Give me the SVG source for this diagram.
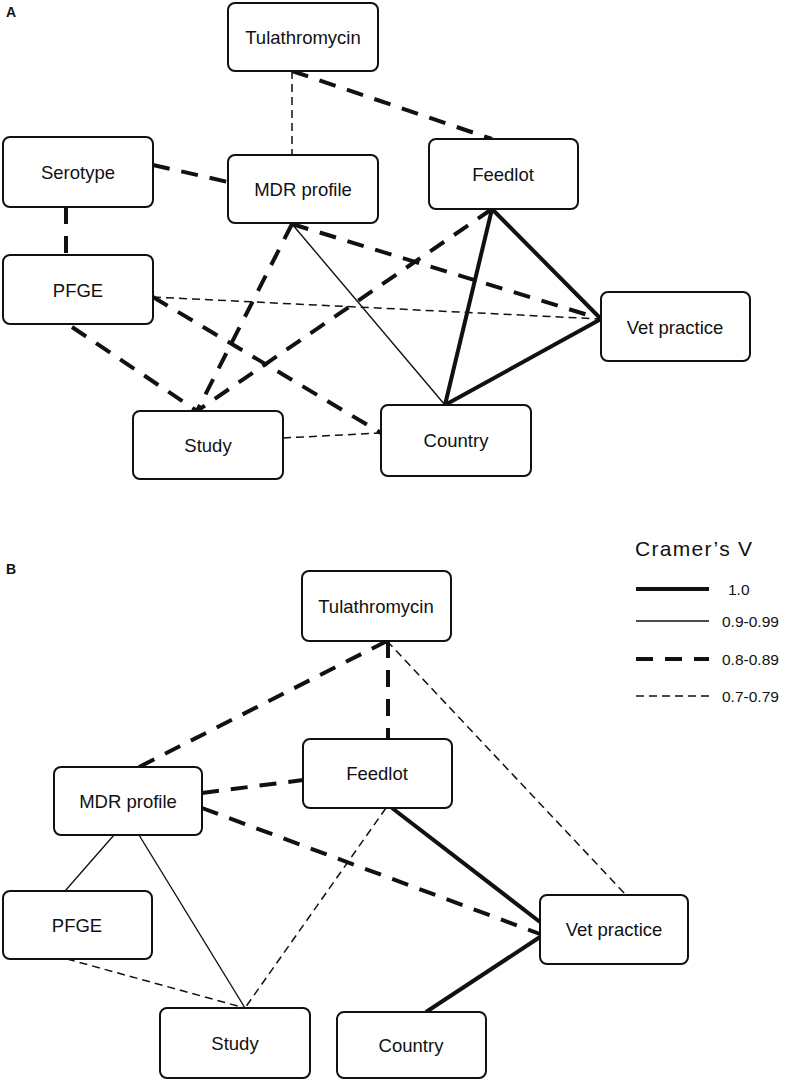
<svg xmlns="http://www.w3.org/2000/svg" width="790" height="1083" viewBox="0 0 790 1083">
<style>
.box{fill:#fff;stroke:#111;stroke-width:2}
.lbl{font-family:"Liberation Sans",Arial,sans-serif;font-size:18.5px;fill:#111;text-anchor:middle}
.pl{font-family:"Liberation Sans",Arial,sans-serif;font-size:14px;font-weight:bold;fill:#111}
.s1{stroke:#111;stroke-width:4;fill:none}
.s2{stroke:#111;stroke-width:1.4;fill:none}
.d1{stroke:#111;stroke-width:4;fill:none;stroke-dasharray:17 12}
.d2{stroke:#111;stroke-width:1.5;fill:none;stroke-dasharray:8 5}
.lg{font-family:"Liberation Sans",Arial,sans-serif;font-size:15.5px;fill:#111}
</style>
<rect width="790" height="1083" fill="#fff"/>
<text class="pl" x="6" y="17">A</text>
<text class="pl" x="6" y="574">B</text>
<g id="connectors-A">
<line class="d2" x1="292" y1="71" x2="292" y2="155"/>
<line class="d1" x1="292" y1="71" x2="492" y2="139"/>
<line class="d1" x1="153" y1="165" x2="228" y2="182"/>
<line class="d1" x1="66" y1="207" x2="66" y2="255"/>
<line class="d1" x1="292" y1="224" x2="197" y2="411"/>
<line class="s2" x1="292" y1="224" x2="445" y2="405"/>
<line class="d1" x1="292" y1="224" x2="601" y2="319"/>
<line class="d1" x1="492" y1="209" x2="197" y2="411"/>
<line class="s1" x1="492" y1="209" x2="445" y2="405"/>
<line class="s1" x1="492" y1="209" x2="601" y2="319"/>
<line class="s1" x1="445" y1="405" x2="601" y2="319"/>
<line class="d2" x1="153" y1="297" x2="601" y2="319"/>
<line class="d1" x1="153" y1="297" x2="381" y2="433"/>
<line class="d1" x1="72" y1="327" x2="197" y2="411"/>
<line class="d2" x1="283" y1="438" x2="381" y2="433"/>
</g>
<g id="connectors-B">
<line class="d1" x1="387" y1="641" x2="139" y2="767"/>
<line class="d1" x1="388" y1="641" x2="388" y2="739"/>
<line class="d2" x1="387" y1="641" x2="626" y2="895"/>
<line class="d1" x1="202" y1="793" x2="303" y2="780"/>
<line class="d1" x1="202" y1="808" x2="540" y2="934"/>
<line class="s1" x1="392" y1="808" x2="540" y2="922"/>
<line class="s1" x1="426" y1="1012" x2="540" y2="937"/>
<line class="d2" x1="386" y1="808" x2="245" y2="1008"/>
<line class="s2" x1="114" y1="835" x2="65" y2="891"/>
<line class="s2" x1="139" y1="835" x2="245" y2="1008"/>
<line class="d2" x1="67" y1="959" x2="245" y2="1008"/>
</g>
<g id="A-tulathromycin"><rect class="box" x="228" y="3" width="150" height="68" rx="7"/><text class="lbl" x="303" y="44">Tulathromycin</text></g>
<g id="A-serotype"><rect class="box" x="3" y="137" width="150" height="70" rx="7"/><text class="lbl" x="78" y="179">Serotype</text></g>
<g id="A-mdr"><rect class="box" x="228" y="155" width="150" height="68" rx="7"/><text class="lbl" x="303" y="196">MDR profile</text></g>
<g id="A-feedlot"><rect class="box" x="429" y="139" width="149" height="70" rx="7"/><text class="lbl" x="503" y="181">Feedlot</text></g>
<g id="A-vet"><rect class="box" x="601" y="292" width="149" height="69" rx="7"/><text class="lbl" x="675" y="334">Vet practice</text></g>
<g id="A-pfge"><rect class="box" x="3" y="255" width="150" height="69" rx="7"/><text class="lbl" x="78" y="297">PFGE</text></g>
<g id="A-study"><rect class="box" x="133" y="411" width="150" height="68" rx="7"/><text class="lbl" x="208" y="452">Study</text></g>
<g id="A-country"><rect class="box" x="381" y="405" width="150" height="71" rx="7"/><text class="lbl" x="456" y="447">Country</text></g>
<g id="B-tulathromycin"><rect class="box" x="302" y="571" width="149" height="70" rx="7"/><text class="lbl" x="376" y="613">Tulathromycin</text></g>
<g id="B-feedlot"><rect class="box" x="303" y="739" width="149" height="69" rx="7"/><text class="lbl" x="377" y="780">Feedlot</text></g>
<g id="B-mdr"><rect class="box" x="54" y="767" width="148" height="68" rx="7"/><text class="lbl" x="128" y="808">MDR profile</text></g>
<g id="B-vet"><rect class="box" x="540" y="895" width="148" height="69" rx="7"/><text class="lbl" x="614" y="936">Vet practice</text></g>
<g id="B-pfge"><rect class="box" x="3" y="891" width="149" height="68" rx="7"/><text class="lbl" x="77" y="932">PFGE</text></g>
<g id="B-study"><rect class="box" x="160" y="1008" width="150" height="70" rx="7"/><text class="lbl" x="235" y="1050">Study</text></g>
<g id="B-country"><rect class="box" x="337" y="1012" width="149" height="66" rx="7"/><text class="lbl" x="411" y="1052">Country</text></g>
<g id="legend">
<text x="635" y="556" font-family="Liberation Sans, Arial, sans-serif" font-size="21" letter-spacing="1.3" fill="#111">Cramer’s V</text>
<line class="s1" x1="636" y1="589" x2="709" y2="589"/>
<line class="s2" x1="636" y1="621" x2="709" y2="621"/>
<line class="d1" x1="636" y1="659" x2="709" y2="659"/>
<line class="d2" x1="636" y1="696" x2="709" y2="696"/>
<text class="lg" x="728" y="595">1.0</text>
<text class="lg" x="722" y="627">0.9-0.99</text>
<text class="lg" x="722" y="665">0.8-0.89</text>
<text class="lg" x="722" y="702">0.7-0.79</text>
</g>
</svg>
